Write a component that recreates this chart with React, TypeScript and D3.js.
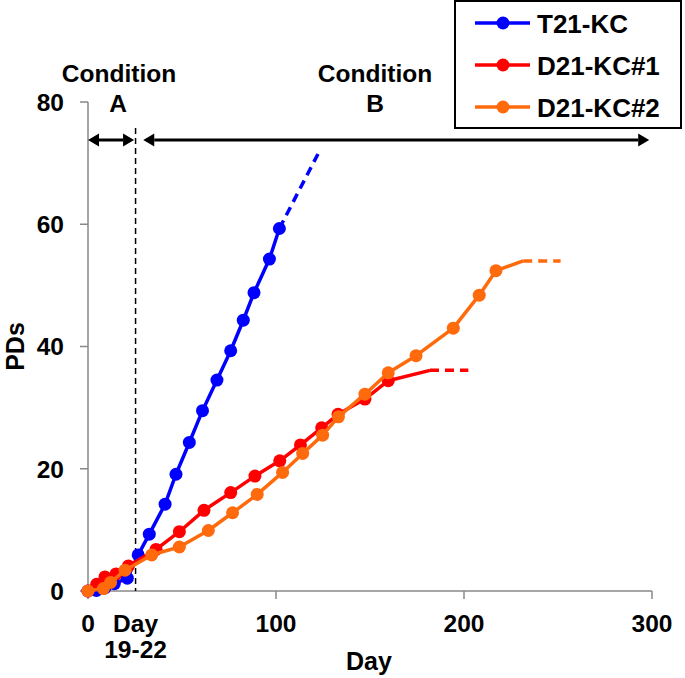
import React from "react";
import * as d3 from "d3";

const seriesNames = ["T21-KC", "D21-KC#1", "D21-KC#2"];
const seriesColors = ["#0000ff", "#ff0000", "#ff6a0d"];

const t21Days = [0, 4.5, 9, 14, 20.9, 26.7, 32.6, 41, 46.8, 53.9, 60.9, 68.6, 75.9, 82.6, 88.3, 96.5, 101.8];
const t21PDs = [0, 0.1, 0.5, 1.2, 2.1, 5.9, 9.3, 14.2, 19.1, 24.3, 29.5, 34.5, 39.3, 44.3, 48.8, 54.3, 59.3];
const t21Dashed = [[101.8, 59.3], [122.5, 71.6]];

const d1Days = [0, 4.6, 9, 14.9, 21.5, 36.2, 48.6, 61.7, 75.9, 88.8, 102, 113, 124.3, 133, 147.3, 159.7];
const d1PDs = [0, 1.1, 2.3, 2.8, 4.1, 6.8, 9.7, 13.2, 16.1, 18.8, 21.3, 23.9, 26.7, 28.9, 31.4, 34.4];
const d1Tail = [[159.7, 34.4], [181.9, 36.1]];
const d1Dashed = [[181.9, 36.1], [202.3, 36.1]];

const d2Days = [0, 8.2, 12, 19.7, 33.9, 48.6, 64, 76.9, 90, 103.5, 114.2, 124.8, 133.2, 147.3, 159.7, 174.5, 194.3, 208.1, 217];
const d2PDs = [0, 0.4, 1.4, 3.4, 5.9, 7.2, 9.9, 12.8, 15.8, 19.4, 22.5, 25.5, 28.5, 32.2, 35.7, 38.5, 43.0, 48.4, 52.4];
const d2Tail = [[217, 52.4], [231.5, 54.0]];
const d2Dashed = [[231.5, 54.0], [251.4, 54.0]];

const xTicks = [0, 100, 200, 300];
const yTicks = [0, 20, 40, 60, 80];
const conditionDay = 25.3;
const arrowA = [0, 24.5];
const arrowB = [29.4, 298.5];

const FONT = "'Liberation Sans', Arial, Helvetica, sans-serif";

export default function App() {
  const x = d3.scaleLinear().domain([0, 300]).range([88, 652]);
  const y = d3.scaleLinear().domain([0, 80]).range([591, 102]);
  const line = d3.line<number[]>().x((d) => x(d[0])).y((d) => y(d[1]));

  const series = [
    { pts: t21Days.map((d, i) => [d, t21PDs[i]]), tail: null as number[][] | null, dashed: t21Dashed },
    { pts: d1Days.map((d, i) => [d, d1PDs[i]]), tail: d1Tail, dashed: d1Dashed },
    { pts: d2Days.map((d, i) => [d, d2PDs[i]]), tail: d2Tail, dashed: d2Dashed },
  ];

  const arrowY = 140;
  const ah = 11;
  const aw = 6.5;

  const arrowHead = (tipX: number, dir: number) =>
    `M${tipX},${arrowY} L${tipX - dir * ah},${arrowY - aw} L${tipX - dir * ah},${arrowY + aw} Z`;

  const FS = 24.5;

  return (
    <svg width={685} height={678} style={{ position: "absolute", left: 0, top: 0, background: "#fff" }} fontFamily={FONT}>
      {/* axes */}
      <line x1={x(0)} x2={x(0)} y1={y(80)} y2={y(0)} stroke="#888" strokeWidth={1.5} />
      <line x1={x(0)} x2={x(300)} y1={y(0)} y2={y(0)} stroke="#888" strokeWidth={1.5} />
      {yTicks.map((t) => (
        <g key={"y" + t}>
          <line x1={x(0) - 8} x2={x(0)} y1={y(t)} y2={y(t)} stroke="#888" strokeWidth={1.5} />
          <text x={64} y={y(t)} dy="0.36em" textAnchor="end" fontSize={FS} fontWeight="bold">{t}</text>
        </g>
      ))}
      {xTicks.map((t) => (
        <g key={"x" + t}>
          <line x1={x(t)} x2={x(t)} y1={y(0)} y2={y(0) + 8} stroke="#888" strokeWidth={1.5} />
          <text x={x(t)} y={632} textAnchor="middle" fontSize={FS} fontWeight="bold">{t}</text>
        </g>
      ))}
      <text x={x(conditionDay)} y={632} textAnchor="middle" fontSize={FS} fontWeight="bold">Day</text>
      <text x={x(conditionDay)} y={658} textAnchor="middle" fontSize={FS} fontWeight="bold">19-22</text>
      <text x={369} y={670} textAnchor="middle" fontSize={25} fontWeight="bold">Day</text>
      <text transform={`translate(24,${y(40)}) rotate(-90)`} textAnchor="middle" fontSize={25} fontWeight="bold">PDs</text>

      {/* condition marker */}
      <line x1={x(conditionDay)} x2={x(conditionDay)} y1={128} y2={y(0)} stroke="#000" strokeWidth={1.5} strokeDasharray="6,4" />
      <line x1={x(arrowA[0]) + ah} x2={x(arrowA[1]) - ah} y1={arrowY} y2={arrowY} stroke="#000" strokeWidth={3} />
      <path d={arrowHead(x(arrowA[0]), -1)} fill="#000" />
      <path d={arrowHead(x(arrowA[1]), 1)} fill="#000" />
      <line x1={x(arrowB[0]) + ah} x2={x(arrowB[1]) - ah} y1={arrowY} y2={arrowY} stroke="#000" strokeWidth={3} />
      <path d={arrowHead(x(arrowB[0]), -1)} fill="#000" />
      <path d={arrowHead(x(arrowB[1]), 1)} fill="#000" />
      <text x={119} y={82} textAnchor="middle" fontSize={FS} fontWeight="bold">Condition</text>
      <text x={118} y={112} textAnchor="middle" fontSize={FS} fontWeight="bold">A</text>
      <text x={375} y={82} textAnchor="middle" fontSize={FS} fontWeight="bold">Condition</text>
      <text x={375} y={112} textAnchor="middle" fontSize={FS} fontWeight="bold">B</text>

      {/* series */}
      {series.map((s, i) => (
        <g key={"s" + i}>
          <path d={line(s.pts) || ""} fill="none" stroke={seriesColors[i]} strokeWidth={3.5} strokeLinejoin="round" />
          {s.tail && <path d={line(s.tail) || ""} fill="none" stroke={seriesColors[i]} strokeWidth={3.5} />}
          <path d={line(s.dashed) || ""} fill="none" stroke={seriesColors[i]} strokeWidth={3.5} strokeDasharray="9,6" />
          {s.pts.map((p, j) => (
            <circle key={j} cx={x(p[0])} cy={y(p[1])} r={6.5} fill={seriesColors[i]} />
          ))}
        </g>
      ))}

      {/* legend */}
      <rect x={455} y={1} width={226} height={127} fill="#fff" stroke="#000" strokeWidth={2} />
      {seriesNames.map((n, i) => {
        const ly = 23 + i * 42;
        return (
          <g key={"l" + i}>
            <line x1={475} x2={530} y1={ly} y2={ly} stroke={seriesColors[i]} strokeWidth={3.5} />
            <circle cx={503} cy={ly} r={6.5} fill={seriesColors[i]} />
            <text x={537} y={ly + 9.5} fontSize={26} fontWeight="bold">{n}</text>
          </g>
        );
      })}
    </svg>
  );
}
